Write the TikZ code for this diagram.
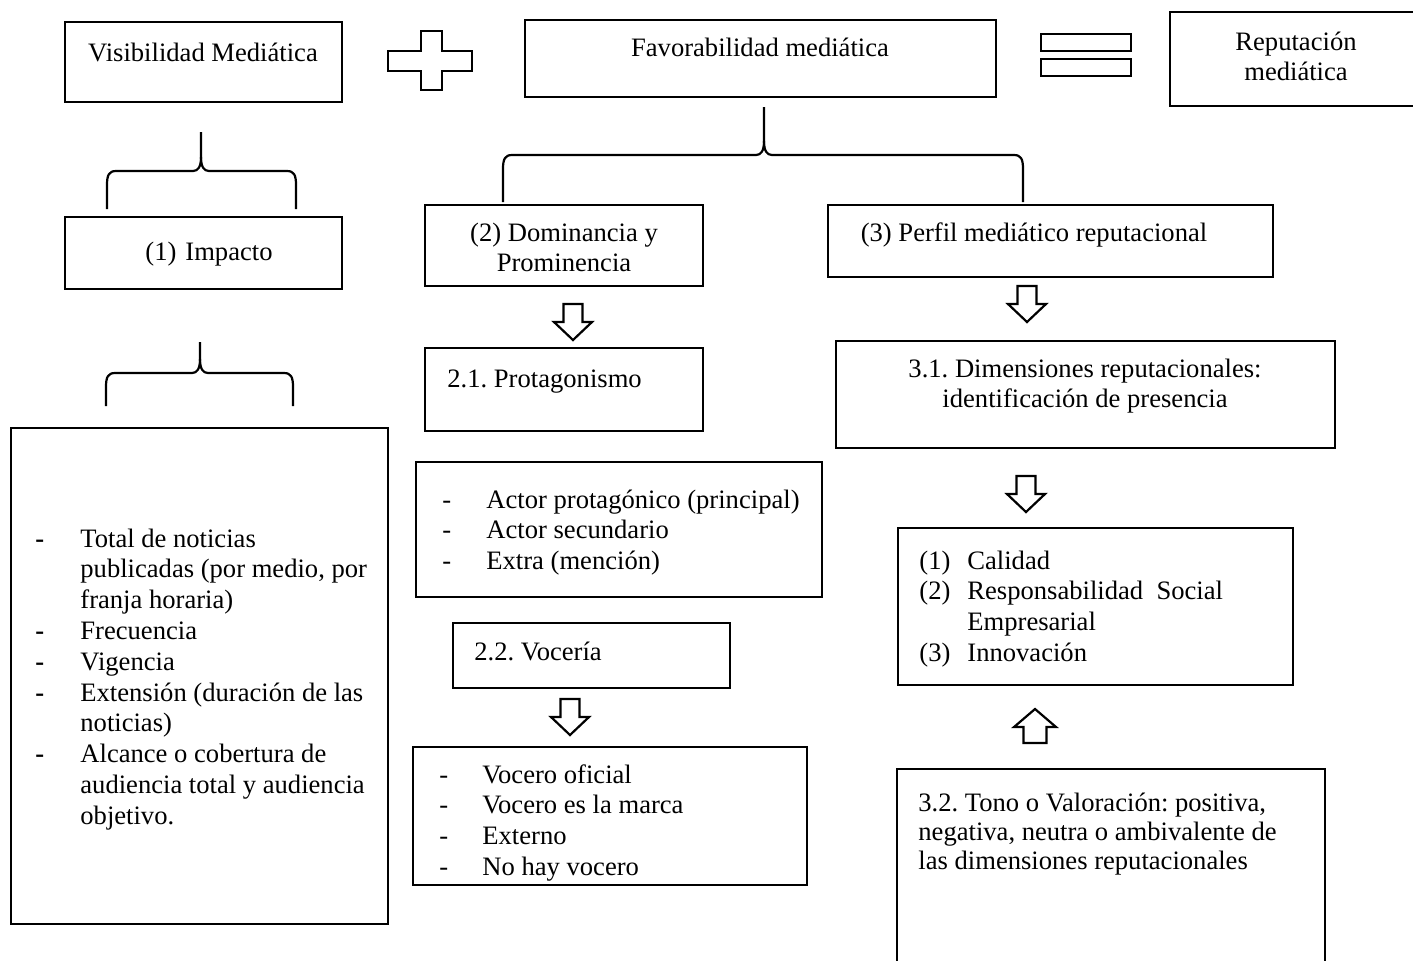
\documentclass[tikz,border=0pt]{standalone}
\usepackage{fontspec}
\setmainfont{Liberation Serif}
\usetikzlibrary{fit}
\frenchspacing
\newcommand\hbrace[6]{%
\draw[bracel] (#1,#6) -- (#1,{#5+14}) .. controls (#1,{#5+4}) and ({#1+2},#5) .. ({#1+9},#5) -- ({#2-8},#5) .. controls ({#2-3},#5) and (#2,{#5-4}) .. (#2,{#5-14}) -- (#2,#4);
\draw[bracel] (#2,{#5-14}) .. controls (#2,{#5-4}) and ({#2+3},#5) .. ({#2+8},#5) -- ({#3-9},#5) .. controls ({#3-2},#5) and (#3,{#5+4}) .. (#3,{#5+14}) -- (#3,#6);}
\tikzset{
  box/.style={draw, line width=1.1pt, inner sep=0pt, rectangle},
  txt/.style={font=\fontsize{13.3}{15.4}\selectfont, inner sep=0pt},
  bracel/.style={line width=1.1pt, line join=round},
  blk/.style={line width=1.1pt, line join=miter, fill=white},
  darr/.pic={\draw[blk] (-9.5,0) -- (9.5,0) -- (9.5,18) -- (19,18) -- (0,36) -- (-19,18) -- (-9.5,18) -- cycle;},
  uarr/.pic={\draw[blk] (0,0) -- (21,18) -- (11.5,18) -- (11.5,34) -- (-11.5,34) -- (-11.5,18) -- (-21,18) -- cycle;}
}
\begin{document}
\begin{tikzpicture}[x=0.5pt,y=-0.5pt]
\useasboundingbox (0,0) rectangle (1413,960);
\clip (0,0) rectangle (1413,960);
% top row
\node[box, fit={(65,22) (342,102)}] (vis) {};
\node[box, fit={(525,20) (996,97)}] (fav) {};
\node[box, fit={(1170,12) (1424,106)}] (rep) {};
\node[txt, anchor=base] (tvis) at (203,61) {Visibilidad Mediática};
\node[txt, anchor=base] (tfav) at (760,56) {Favorabilidad mediática};
\node[txt, anchor=base] (trep) at (1296,50) {\begin{tabular}[t]{@{}c@{}}Reputación\\mediática\end{tabular}};
% plus and equals
\draw[blk] (421,31) -- (442,31) -- (442,51) -- (472,51) -- (472,71) -- (442,71) -- (442,90) -- (421,90) -- (421,71) -- (388,71) -- (388,51) -- (421,51) -- cycle;
\draw[blk] (1041,34) rectangle (1131,51);
\draw[blk] (1041,59) rectangle (1131,76);
% braces
\hbrace{107}{201}{296}{132}{171}{209}
\hbrace{503}{764}{1023}{107}{155}{202}
\hbrace{106}{200}{293}{342}{373}{406}
% second row
\node[box, fit={(65,217) (342,289)}] (imp) {};
\node[txt, anchor=base west] (timp1) at (145,260) {(1)};
\node[txt, anchor=base west] (timp2) at (185,260) {Impacto};
\node[box, fit={(425,205) (703,286)}] (dom) {};
\node[txt, anchor=base] (tdom) at (564,241) {\begin{tabular}[t]{@{}c@{}}(2) Dominancia y\\Prominencia\end{tabular}};
\node[box, fit={(828,205) (1273,277)}] (perf) {};
\node[txt, anchor=base] (tperf) at (1034,241) {(3) Perfil mediático reputacional};
% middle column
\pic at (573,304) {darr};
\node[box, fit={(425,348) (703,431)}] (prot) {};
\node[txt, anchor=base west] (tprot) at (447,387) {2.1. Protagonismo};
\node[box, fit={(416,462) (822,597)}] (act) {};
\node[txt, anchor=base west] (tact) at (442,508) {\begin{tabular}[t]{@{}p{22pt}@{}l@{}}-&Actor protagónico (principal)\\-&Actor secundario\\-&Extra (mención)\end{tabular}};
\node[box, fit={(453,623) (730,688)}] (voc) {};
\node[txt, anchor=base west] (tvoc) at (474,660) {2.2. Vocería};
\pic at (570,699) {darr};
\node[box, fit={(413,747) (807,885)}] (vocl) {};
\node[txt, anchor=base west] (tvocl) at (439,783) {\begin{tabular}[t]{@{}p{21.5pt}@{}l@{}}-&Vocero oficial\\-&Vocero es la marca\\-&Externo\\-&No hay vocero\end{tabular}};
% left big box
\node[box, fit={(11,428) (388,924)}] (big) {};
\node[txt, anchor=base west] (tbig) at (35,547) {\begin{tabular}[t]{@{}p{22.5pt}@{}l@{}}\textbf{-}&Total de noticias\\&publicadas (por medio, por\\&franja horaria)\\\textbf{-}&Frecuencia\\\textbf{-}&Vigencia\\\textbf{-}&Extensión (duración de las\\&noticias)\\\textbf{-}&Alcance o cobertura de\\&audiencia total y audiencia\\&objetivo.\end{tabular}};
% right column
\pic at (1027,286) {darr};
\node[box, fit={(836,341) (1335,448)}] (dim) {};
\node[txt, anchor=base] (tdim) at (1085,377) {\begin{tabular}[t]{@{}c@{}}3.1. Dimensiones reputacionales:\\identificación de presencia\end{tabular}};
\pic at (1026,476) {darr};
\node[box, fit={(898,528) (1293,685)}] (cal) {};
\node[txt, anchor=base west] (tcal) at (919,569) {\begin{tabular}[t]{@{}p{24pt}@{}l@{}}(1)&Calidad\\(2)&Responsabilidad\ \ Social\\&Empresarial\\(3)&Innovación\end{tabular}};
\pic at (1035,709) {uarr};
\node[box, fit={(897,769) (1325,990)}] (tono) {};
\node[txt, anchor=base west, font=\fontsize{13.3}{14.6}\selectfont] (ttono) at (918,811) {\begin{tabular}[t]{@{}l@{}}3.2. Tono o Valoración: positiva,\\negativa, neutra o ambivalente de\\las dimensiones reputacionales\end{tabular}};
\end{tikzpicture}
\end{document}
